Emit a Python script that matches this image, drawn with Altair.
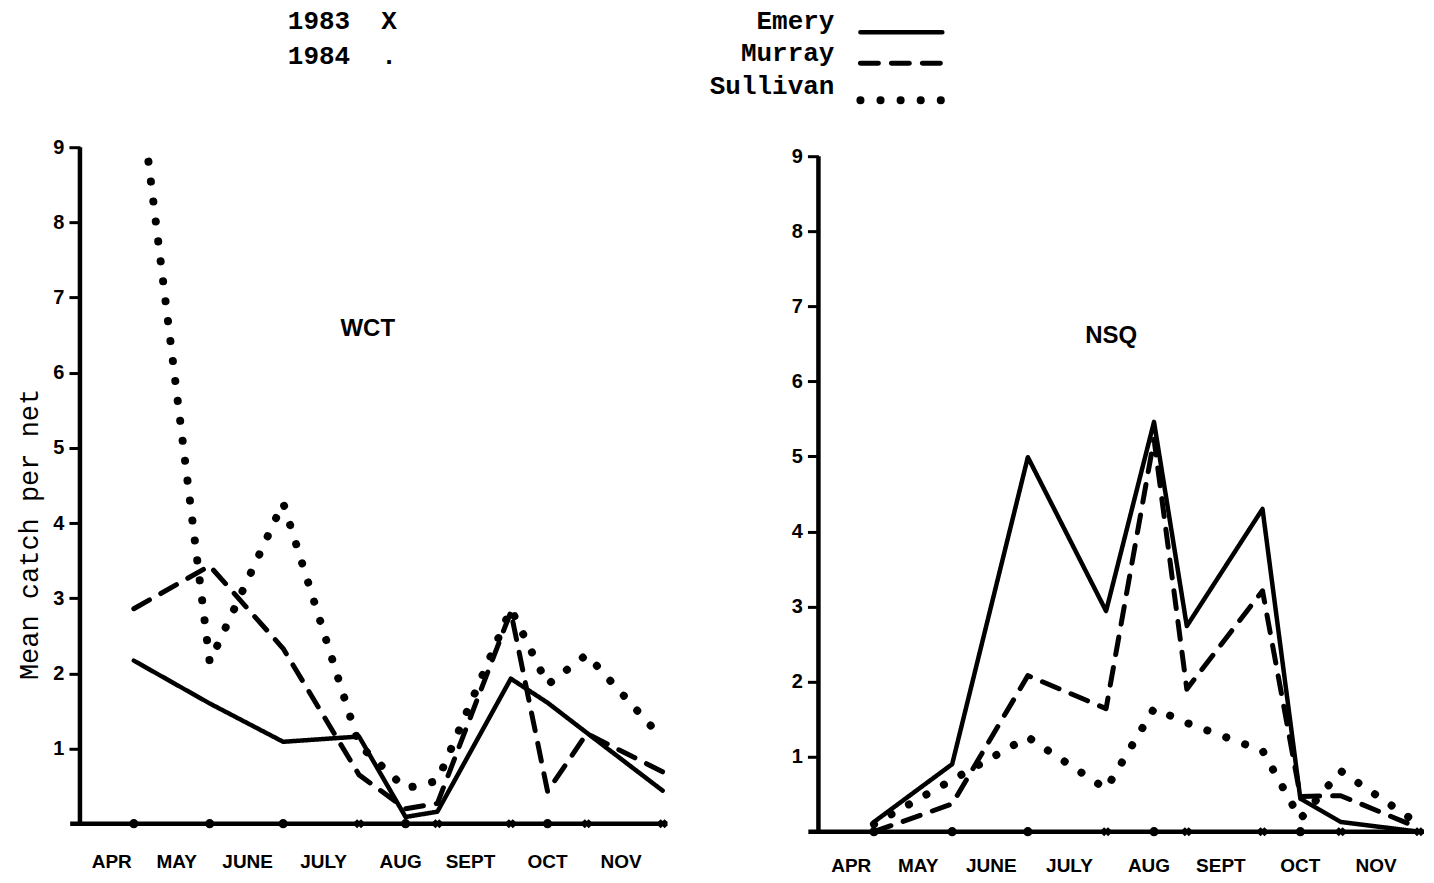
import altair as alt
import pandas as pd

# sampling dates (days after the start of April) and the year of each sample
sample_day = [22, 53, 83, 114, 133, 146, 176, 191, 207, 238]
sample_year = ["1984", "1984", "1984", "1983", "1984", "1983", "1983", "1984", "1983", "1983"]

month_names = ["APR", "MAY", "JUNE", "JULY", "AUG", "SEPT", "OCT", "NOV"]
month_pos = [13, 39.5, 68.5, 99.5, 131, 159.5, 191, 221]

series_names = ["Emery", "Murray", "Sullivan"]

wct_emery = [2.17, 1.6, 1.09, 1.16, 0.09, 0.16, 1.93, 1.61, 1.21, 0.44]
wct_murray = [2.86, 3.43, 2.33, 0.65, 0.2, 0.27, 2.82, 0.43, 1.2, 0.69]
wct_sullivan = [10.4, 2.15, 4.27, 1.05, 0.47, 0.57, 2.86, 1.85, 2.25, 1.13]

nsq_emery = [0.13, 0.9, 4.99, 2.94, 5.46, 2.74, 4.3, 0.44, 0.13, 0.0]
nsq_murray = [0.0, 0.37, 2.08, 1.64, 5.23, 1.9, 3.21, 0.47, 0.48, 0.05]
nsq_sullivan = [0.1, 0.69, 1.26, 0.57, 1.64, 1.45, 1.08, 0.17, 0.81, 0.1]

year_labels = ["1983", "1984"]
year_symbols = ["X", "."]

y_ticks = [1, 2, 3, 4, 5, 6, 7, 8, 9]

# styles
STYLE = {
    "Emery": dict(strokeDash=[1, 0], strokeWidth=4.5),
    "Murray": dict(strokeDash=[18, 13], strokeWidth=5),
    "Sullivan": dict(strokeDash=[0.1, 20], strokeWidth=8),
}
MONO = "Liberation Mono"
SANS = "Liberation Sans"
NBSP = "\u00a0"


def make_panel(name, series_values, ymax, height, width, title_pos,
               show_ytitle, legend_kind, label_gap):
    xscale = alt.Scale(domain=[0, 240], nice=False, zero=False)
    yscale = alt.Scale(domain=[0, ymax], nice=False, zero=False)
    yaxis = alt.Axis(
        values=y_ticks, domain=False, grid=False, tickSize=11,
        tickWidth=3, tickColor="black", labelColor="black",
        labelFont=SANS, labelFontSize=20, labelFontWeight="bold",
        labelPadding=5,
        title="Mean catch per net" if show_ytitle else "",
        titleFont=MONO, titleFontSize=27, titleFontWeight="normal",
        titleColor="black", titleAngle=270, titleX=-50, titleY=387,
        titleBaseline="middle", titleAlign="center",
    )
    X = lambda f: alt.X(f, scale=xscale, axis=None)
    Y = lambda f: alt.Y(f, scale=yscale, axis=yaxis)
    layers = []

    # data lines
    for i, s in enumerate(series_names):
        df = pd.DataFrame({"day": sample_day, "value": series_values[i]})
        layers.append(
            alt.Chart(df).mark_line(
                color="black", strokeCap="round", strokeJoin="round",
                clip=True, **STYLE[s]
            ).encode(x=X("day:Q"), y=Y("value:Q"))
        )

    # axis lines
    yaxis_df = pd.DataFrame({"day": [0], "lo": [0], "hi": [9]})
    layers.append(
        alt.Chart(yaxis_df).mark_rule(color="black", strokeWidth=4.5).encode(
            x=X("day:Q"), y=Y("lo:Q"), y2="hi:Q"
        )
    )
    xaxis_df = pd.DataFrame({"d0": [-4], "d1": [240], "v": [0]})
    layers.append(
        alt.Chart(xaxis_df).mark_rule(color="black", strokeWidth=4.5).encode(
            x=X("d0:Q"), x2="d1:Q", y=Y("v:Q")
        )
    )

    # sample markers on the axis
    mdf = pd.DataFrame({"day": sample_day, "year": sample_year, "zero": [0] * len(sample_day)})
    layers.append(
        alt.Chart(mdf).mark_point(filled=True, color="black", opacity=1, size=85, angle=45).encode(
            x=X("day:Q"),
            y=Y("zero:Q"),
            shape=alt.Shape("year:N", scale=alt.Scale(domain=["1983", "1984"],
                                                     range=["cross", "circle"]), legend=None),
        )
    )

    # month labels
    mo = pd.DataFrame({"m": month_names, "pos": month_pos})
    layers.append(
        alt.Chart(mo).mark_text(font=SANS, fontSize=19, fontWeight="bold",
                                color="black", baseline="middle").encode(
            x=X("pos:Q"), y=alt.value(height + label_gap), text="m:N"
        )
    )

    # panel title
    layers.append(
        alt.Chart(pd.DataFrame({"t": [name]})).mark_text(
            font=SANS, fontSize=24, fontWeight="bold", color="black", baseline="middle"
        ).encode(x=alt.value(title_pos[0]), y=alt.value(title_pos[1]), text="t:N")
    )

    # legends placed above the panels
    if legend_kind == "years":
        for j, (lab, sym) in enumerate(zip(year_labels, year_symbols)):
            layers.append(
                alt.Chart(pd.DataFrame({"t": [lab + NBSP * 2 + sym]})).mark_text(
                    font=MONO, fontSize=26, fontWeight="bold", color="black",
                    align="left", baseline="middle"
                ).encode(x=alt.value(208), y=alt.value([-126, -91][j]), text="t:N")
            )
    else:
        for j, s in enumerate(series_names):
            layers.append(
                alt.Chart(pd.DataFrame({"t": [s]})).mark_text(
                    font=MONO, fontSize=26, fontWeight="bold", color="black",
                    align="right", baseline="middle"
                ).encode(x=alt.value(16), y=alt.value([-126, -94, -61][j]), text="t:N")
            )
            layers.append(
                alt.Chart(pd.DataFrame({"t": [s]})).mark_rule(
                    color="black", strokeCap="round", **STYLE[s]
                ).encode(x=alt.value(42), x2=alt.value(124),
                         y=alt.value([-115, -84, -47][j]), detail="t:N")
            )

    return alt.layer(*layers).properties(width=width, height=height)


left = make_panel("WCT", [wct_emery, wct_murray, wct_sullivan], 9, 677, 588,
                  (288, 182), True, "years", 38)
right = make_panel("NSQ", [nsq_emery, nsq_murray, nsq_sullivan], 9.12, 685, 606,
                   (293, 189), False, "series", 34)

chart = alt.hconcat(left, right, spacing=39).properties(
    padding={"left": 8, "top": 0, "right": -1, "bottom": 0}
).configure(background="white").configure_view(stroke=None)

chart.save("out.html", embed_options={"renderer": "svg", "actions": False})
